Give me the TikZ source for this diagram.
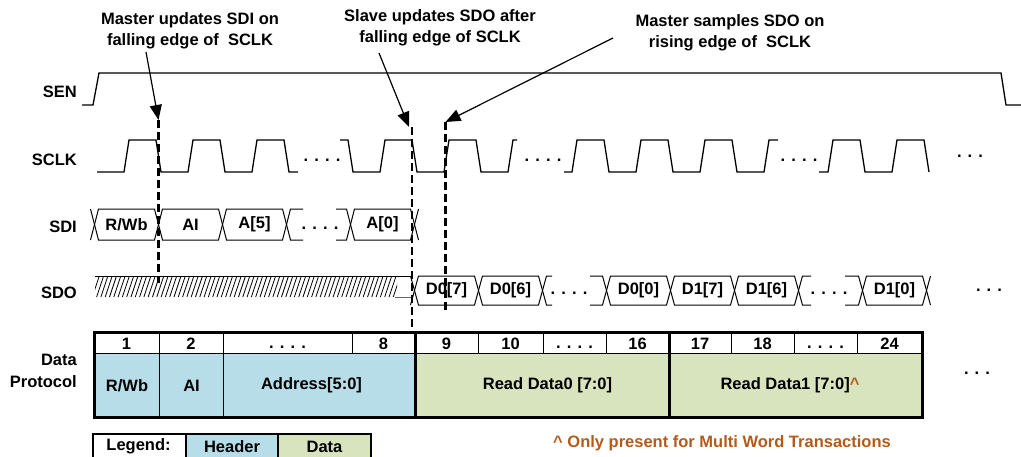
\documentclass[tikz,border=0pt]{standalone}
\usepackage{fontspec}
\setmainfont{Liberation Sans}
\usetikzlibrary{arrows.meta}
\definecolor{hdrblue}{RGB}{183,221,232}
\definecolor{datgreen}{RGB}{215,228,189}
\definecolor{notebrown}{RGB}{178,92,28}
\begin{document}
\begin{tikzpicture}[x=1pt,y=-1pt,
  font=\fontsize{16.5}{20}\selectfont\bfseries,
  ann/.style={align=center,inner sep=0pt,font=\fontsize{16.5}{21}\selectfont\bfseries},
  sig/.style={anchor=east,inner sep=0pt},
  cellt/.style={inner sep=0pt},
  dotl/.style={anchor=base,inner sep=0pt},
  ptr/.style={line width=1.2pt,-{Triangle[length=15pt,width=12pt]}},
  edgeline/.style={line width=2.5pt,dash pattern=on 8pt off 4pt},
  wave/.style={line width=1.3pt},
  bus/.style={line width=1pt},
  heavy/.style={line width=3pt},
  thinl/.style={line width=1pt}]
\useasboundingbox (0,0) rectangle (1021,456);

% ---------- annotations ----------
\node[ann] (ann1) at (190,31) {Master updates SDI on\\falling edge of\ \ SCLK};
\node[ann] (ann2) at (440,28) {Slave updates SDO after\\falling edge of SCLK};
\node[ann] (ann3) at (730,32.5) {Master samples SDO on\\rising edge of\ \ SCLK};

% ---------- signal labels ----------
\node[sig] (lsen)  at (77,92)  {SEN};
\node[sig] (lsclk) at (77,160) {SCLK};
\node[sig] (lsdi)  at (77,227) {SDI};
\node[sig] (lsdo)  at (77,293) {SDO};
\node[sig,align=right,font=\fontsize{16.5}{22}\selectfont\bfseries] (ldp) at (77,371) {Data\\Protocol};

% ---------- SEN ----------
\draw[wave] (82,105) -- (93,105) -- (99,73) -- (1001,73) -- (1006,105) -- (1021,105);

% ---------- SCLK ----------
\draw[wave] (97,172) foreach \c in {124,188,252}{ -- (\c,172) -- (\c+5,140) -- (\c+32,140) -- (\c+37,172)} -- (298,172);
\draw[wave] (340,140) -- (348,140) -- (353,172) foreach \c in {380,444}{ -- (\c,172) -- (\c+5,140) -- (\c+32,140) -- (\c+37,172)} -- (508,172) -- (513,140) -- (517,140);
\draw[wave] (564,172) foreach \c in {572,636,700}{ -- (\c,172) -- (\c+5,140) -- (\c+32,140) -- (\c+37,172)} -- (764,172) -- (769,140) -- (778,140);
\draw[wave] (819,172) foreach \c in {828,892}{ -- (\c,172) -- (\c+5,140) -- (\c+32,140) -- (\c+37,172)};
\node[dotl] (ck1) at (322,161) {. . . .};
\node[dotl] (ck2) at (543,161) {. . . .};
\node[dotl] (ck3) at (799,161) {. . . .};
\node[dotl] (ck4) at (970,157) {. . .};

% ---------- SDI ----------
\foreach \l/\r in {94.5/158.5,158.5/222.5,222.5/286.5,350.5/414.5}
  \draw[bus] (\l,224.5) -- (\l+4,209) -- (\r-4,209) -- (\r,224.5) -- (\r-4,240) -- (\l+4,240) -- cycle;
\draw[bus] (90.5,209) -- (94.5,224.5) -- (90.5,240);
\draw[bus] (418.5,209) -- (414.5,224.5) -- (418.5,240);
\draw[bus] (303,209) -- (290.5,209) -- (286.5,224.5) -- (290.5,240) -- (303,240);
\draw[bus] (336,209) -- (346.5,209) -- (350.5,224.5) -- (346.5,240) -- (336,240);
\node[cellt] (sdi1) at (126.5,224.5) {R/Wb};
\node[cellt] (sdi2) at (190.5,224.5) {AI};
\node[cellt] (sdi3) at (254.5,224.5) {A[5]};
\node[dotl]  (sdi4) at (320,229.5) {. . . .};
\node[cellt] (sdi5) at (382.5,224.5) {A[0]};

% ---------- SDO ----------
\begin{scope}
  \clip (95,276) rectangle (397,297);
  \foreach \x in {88,92.3,...,400} \draw[line width=0.8pt] (\x,297) -- (\x+7,276);
\end{scope}
\draw[bus] (95,276) -- (410.5,276);
\draw[bus,black!60] (395,297) -- (410.5,297);
\draw[bus] (410.5,276) -- (414.5,290.5) -- (410.5,305);
\foreach \l/\r in {414.5/478.5,478.5/542.5,606.5/670.5,670.5/734.5,734.5/798.5,862.5/926.5}
  \draw[bus] (\l,290.5) -- (\l+4,276) -- (\r-4,276) -- (\r,290.5) -- (\r-4,305) -- (\l+4,305) -- cycle;
\draw[bus] (930.5,276) -- (926.5,290.5) -- (930.5,305);
\draw[bus] (552,276) -- (546.5,276) -- (542.5,290.5) -- (546.5,305) -- (552,305);
\draw[bus] (590,276) -- (602.5,276) -- (606.5,290.5) -- (602.5,305) -- (590,305);
\draw[bus] (811,276) -- (802.5,276) -- (798.5,290.5) -- (802.5,305) -- (811,305);
\draw[bus] (845,276) -- (858.5,276) -- (862.5,290.5) -- (858.5,305) -- (845,305);
\node[cellt] (sdo1) at (446.5,290.5) {D0[7]};
\node[cellt] (sdo2) at (510.5,290.5) {D0[6]};
\node[dotl]  (sdo3) at (569,294.5) {. . . .};
\node[cellt] (sdo4) at (638.5,290.5) {D0[0]};
\node[cellt] (sdo5) at (702.5,290.5) {D1[7]};
\node[cellt] (sdo6) at (766.5,290.5) {D1[6]};
\node[dotl]  (sdo7) at (829,294.5) {. . . .};
\node[cellt] (sdo8) at (894.5,290.5) {D1[0]};
\node[dotl]  (sdo9) at (989,291.5) {. . .};

% ---------- timing markers ----------
\coordinate (a1s) at (146,52);
\coordinate (a1e) at (158.5,120);
\coordinate (d1e) at (158.5,283);
\coordinate (a2s) at (379,53);
\coordinate (a2e) at (409,127);
\coordinate (d2s) at (412,127);
\coordinate (d2e) at (412,332);
\coordinate (a3s) at (613,38);
\coordinate (a3e) at (445.5,122);
\coordinate (d3e) at (445.5,313);
\draw[edgeline] (a1e) -- (d1e);
\draw[edgeline] (d2s) -- (d2e);
\draw[edgeline] (a3e) -- (d3e);
\draw[ptr] (a1s) -- (a1e);
\draw[ptr] (a2s) -- (a2e);
\draw[ptr] (a3s) -- (a3e);

% ---------- data protocol table ----------
\fill[hdrblue] (94,353) rectangle (415,417);
\fill[datgreen] (415,353) rectangle (922,417);
\draw[thinl] (94,353) -- (922,353);
\foreach \x in {159,223,352,478,543,606,731,794,857} \draw[thinl] (\x,332) -- (\x,353);
\foreach \x in {159,223} \draw[thinl] (\x,353) -- (\x,417);
\draw[heavy] (94,332) rectangle (415,417);
\draw[heavy] (415,332) rectangle (669,417);
\draw[heavy] (669,332) rectangle (922,417);
\node[cellt] (h1)  at (126.5,343.5) {1};
\node[cellt] (h2)  at (191,343.5) {2};
\node[dotl]  (h3)  at (287.5,348) {. . . .};
\node[cellt] (h8)  at (383.5,343.5) {8};
\node[cellt] (h9)  at (446.5,343.5) {9};
\node[cellt] (h10) at (510.5,343.5) {10};
\node[dotl]  (h11) at (574.5,348) {. . . .};
\node[cellt] (h16) at (637.5,343.5) {16};
\node[cellt] (h17) at (700,343.5) {17};
\node[cellt] (h18) at (762.5,343.5) {18};
\node[dotl]  (h19) at (825.5,348) {. . . .};
\node[cellt] (h24) at (889.5,343.5) {24};
\node[cellt] (b1) at (127,385.5) {R/Wb};
\node[cellt] (b2) at (191.5,385.5) {AI};
\node[cellt] (b3) at (311.5,385.5) {Address[5:0]};
\node[cellt] (b4) at (547.5,385.5) {Read Data0 [7:0]};
\node[cellt] (b5) at (790,385.5) {Read Data1 [7:0]\textcolor{notebrown}{\textasciicircum}};
\node[dotl]  (tdots) at (977,374.5) {. . .};

% ---------- legend ----------
\fill[hdrblue] (186,434) rectangle (278,460);
\fill[datgreen] (278,434) rectangle (371,460);
\draw[line width=1.5pt] (93,434) rectangle (371,460);
\draw[line width=1.5pt] (186,434) -- (186,460);
\draw[line width=1.5pt] (278,434) -- (278,460);
\node[cellt] (lg1) at (138.5,446.5) {Legend:};
\node[cellt] (lg2) at (232,446.5) {Header};
\node[cellt] (lg3) at (324.5,446.5) {Data};
\node[cellt,text=notebrown] (note) at (722,443) {\textasciicircum{} Only present for Multi Word Transactions};
\end{tikzpicture}
\end{document}
